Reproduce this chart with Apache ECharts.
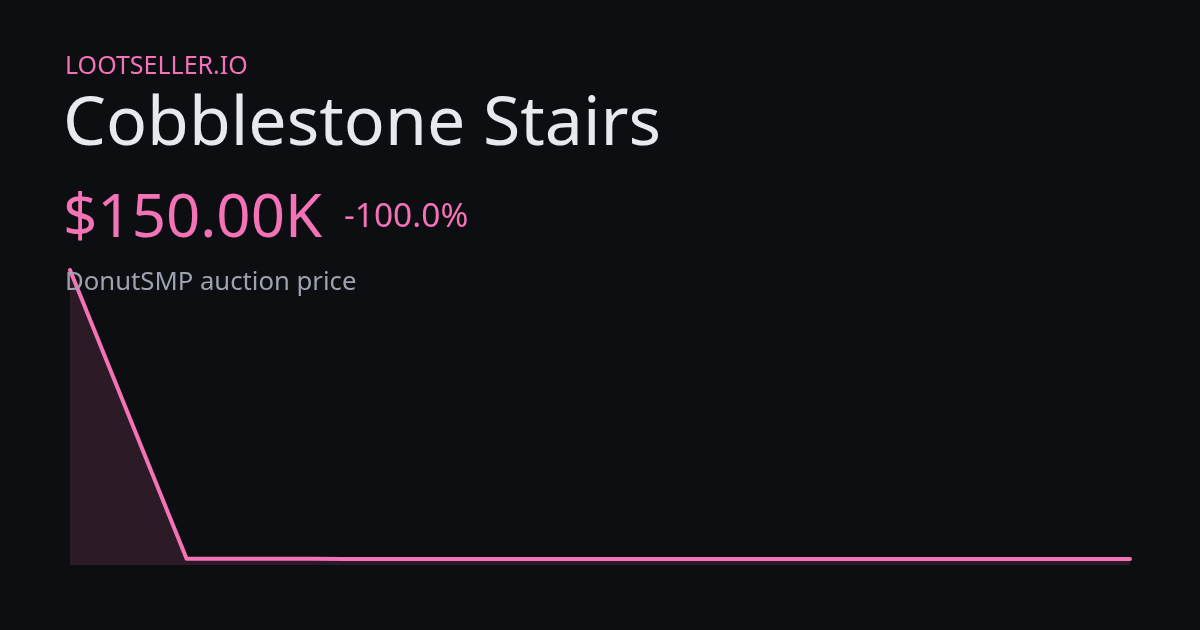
<!DOCTYPE html>
<html>
<head>
<meta charset="utf-8">
<script src="https://cdn.jsdelivr.net/npm/echarts@6/dist/echarts.min.js"></script>
<style>
html,body{margin:0;padding:0;background:#0d0e12;}
#c{width:1200px;height:630px;}
</style>
</head>
<body>
<div id="c"></div>
<script>
// Data (x in days from first sale)
const days   = [0, 3.3, 6.8, 7.8, 8.8, 9.9, 30];
const prices = [150000, 250, 180, 120, 90, 60, 50];

const brand = 'LOOTSELLER.IO';
const itemName = 'Cobblestone Stairs';
const priceLabel = '$150.00K';
const changeLabel = '-100.0%';
const subtitle = 'DonutSMP auction price';

const PINK = '#f472b6';
const FONT = '"Noto Sans", "Open Sans", sans-serif';

const chart = echarts.init(document.getElementById('c'), null, {renderer: 'canvas'});
chart.setOption({
  backgroundColor: '#0d0e12',
  animation: false,
  grid: {left: 70, right: 70, top: 270, bottom: 65},
  xAxis: {type: 'value', min: 0, max: 30, show: false},
  yAxis: {type: 'value', min: -3000, max: 150000, show: false},
  graphic: [
    {type: 'text', x: 65, y: 67, style: {text: brand, fill: PINK, font: '25px ' + FONT, textVerticalAlign: 'middle'}},
    {type: 'text', x: 63, y: 125.6, style: {text: itemName, fill: '#e8e9ee', font: '68px ' + FONT, textVerticalAlign: 'middle'}},
    {type: 'text', x: 63, y: 219.9, style: {text: priceLabel, fill: PINK, font: '60px ' + FONT, textVerticalAlign: 'middle'}},
    {type: 'text', x: 344, y: 217.5, style: {text: changeLabel, fill: PINK, font: '33.5px ' + FONT, textVerticalAlign: 'middle'}},
    {type: 'text', x: 65, y: 282.7, style: {text: subtitle, fill: '#9ca3af', font: '25.7px ' + FONT, textVerticalAlign: 'middle'}, z: 10}
  ],
  series: [{
    type: 'line',
    data: days.map((d, i) => [d, prices[i]]),
    symbol: 'none',
    smooth: false,
    lineStyle: {color: PINK, width: 4, cap: 'round', join: 'round'},
    areaStyle: {color: 'rgba(244,114,182,0.19)', origin: 'start'},
    z: 5
  }]
});
</script>
</body>
</html>
